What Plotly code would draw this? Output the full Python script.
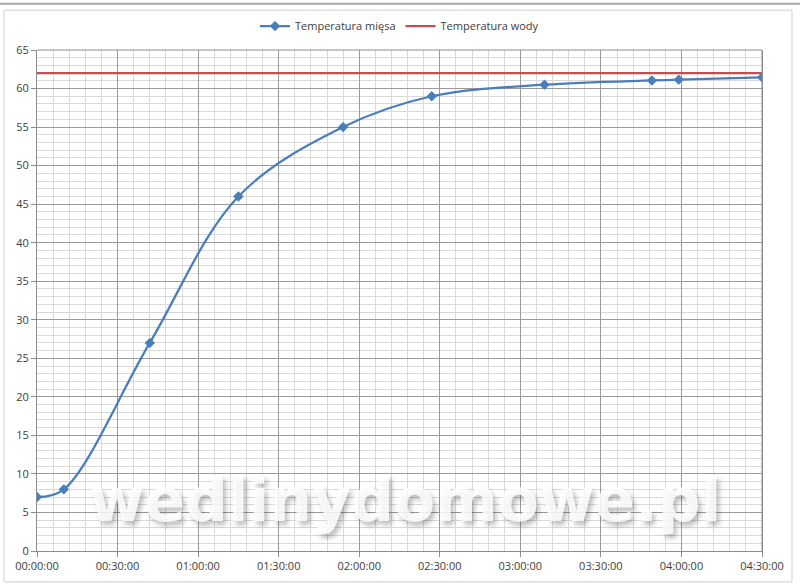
import plotly.graph_objects as go

# --- data ---
times = ["00:00:00", "00:10:00", "00:42:00", "01:15:00", "01:54:00",
         "02:27:00", "03:09:00", "03:49:00", "03:59:00", "04:30:00"]
meat_temp = [7, 8, 27, 46, 55, 59, 60.5, 61.05, 61.15, 61.45]
water_times = ["00:00:00", "04:30:00"]
water_temp = [62, 62]
tick_labels = ["00:00:00", "00:30:00", "01:00:00", "01:30:00", "02:00:00",
               "02:30:00", "03:00:00", "03:30:00", "04:00:00", "04:30:00"]

day = "2000-01-01 "
x_meat = [day + t for t in times]
x_water = [day + t for t in water_times]
x_ticks = [day + t for t in tick_labels]

fig = go.Figure()
fig.add_trace(go.Scatter(
    x=x_meat, y=meat_temp, name="Temperatura mięsa",
    mode="lines+markers", line=dict(color="#4A7EBB", width=2.25, shape="spline", smoothing=1.0),
    marker=dict(symbol="diamond", size=8, color="#4A7EBB"),
))
fig.add_trace(go.Scatter(
    x=x_water, y=water_temp, name="Temperatura wody",
    mode="lines", line=dict(color="#C0504D", width=2.25),
))

L, R, T, B = 37, 38, 48, 35
W, H = 800, 586
pw, ph = W - L - R, H - T - B

def px(xp):
    return (xp - L) / pw

def py(yp):
    return (H - B - yp) / ph

fig.update_layout(
    width=W, height=H,
    margin=dict(l=L, r=R, t=T, b=B),
    paper_bgcolor="white", plot_bgcolor="white",
    font=dict(family="Open Sans", size=11, color="#595959"),
    showlegend=True,
    legend=dict(orientation="h", x=0.5, xanchor="center", y=py(24), yanchor="middle",
                font=dict(size=11, color="#404040"), itemwidth=30, bgcolor="rgba(0,0,0,0)"),
    xaxis=dict(
        type="date",
        range=[x_ticks[0], x_ticks[-1]],
        tickmode="array", tickvals=x_ticks, ticktext=tick_labels,
        showgrid=True, gridcolor="#9a9a9a", gridwidth=1,
        minor=dict(dtick=360000, tick0=x_ticks[0], showgrid=True, gridcolor="#d9d9d9", gridwidth=1),
        ticks="outside", ticklen=5, tickcolor="#8c8c8c",
        showline=True, linecolor="#8c8c8c", linewidth=1,
        zeroline=False, tickfont=dict(size=11, color="#404040"),
    ),
    yaxis=dict(
        range=[0, 65], dtick=5, tick0=0,
        showgrid=True, gridcolor="#9a9a9a", gridwidth=1,
        minor=dict(dtick=1, showgrid=True, gridcolor="#d9d9d9", gridwidth=1),
        ticks="outside", ticklen=5, tickcolor="#8c8c8c",
        showline=True, linecolor="#8c8c8c", linewidth=1, mirror=True,
        zeroline=False, tickfont=dict(size=11, color="#404040"),
    ),
    shapes=[
        dict(type="rect", xref="paper", yref="paper",
             x0=px(4), x1=px(792), y0=py(582), y1=py(8),
             line=dict(color="#d0d0d0", width=1), layer="below"),
        dict(type="line", xref="paper", yref="paper",
             x0=px(0), x1=px(800), y0=py(1.5), y1=py(1.5),
             line=dict(color="#a8a8a8", width=2), layer="below"),
        dict(type="line", xref="paper", yref="paper",
             x0=1, x1=1, y0=0, y1=1,
             line=dict(color="#8c8c8c", width=1)),
        dict(type="line", xref="paper", yref="paper",
             x0=0, x1=1, y0=1, y1=1,
             line=dict(color="#8c8c8c", width=1)),
    ],
    annotations=[
        dict(text="<b>wedlinydomowe.pl</b>", xref="paper", yref="paper",
             x=px(405), y=py(500), xanchor="center", yanchor="middle", showarrow=False,
             font=dict(family="DejaVu Sans", size=60, color="rgba(255,255,255,0.85)",
                       shadow="3px 4px 5px rgba(0,0,0,0.3)")),
    ],
)

fig.write_html(
    "out.html",
    config={"displayModeBar": False},
    post_script="document.body.style.margin='0';document.body.style.overflow='hidden';"
                "document.documentElement.style.overflow='hidden';",
)
